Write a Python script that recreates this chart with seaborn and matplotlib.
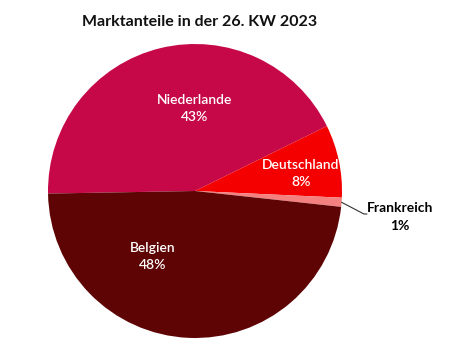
import numpy as np
import matplotlib
matplotlib.use("Agg")
import matplotlib.pyplot as plt
import seaborn as sns

# Market shares, calendar week 26 of 2023
countries = ["Niederlande", "Deutschland", "Frankreich", "Belgien"]
shares = [43, 8, 1, 48]
colors = ["#C60849", "#F40000", "#F48080", "#5E0404"]
title = "Marktanteile in der 26. KW 2023"

sns.set_theme(style="white")
plt.rcParams["font.family"] = ["Lato", "DejaVu Sans"]

W, H = 468, 345
fig = plt.figure(figsize=(W / 100, H / 100), dpi=100)
ax = fig.add_axes([0, 0, 1, 1])

# pie centre and radius in pixels
cx, cy, R = 195, 191, 147

wedges, _ = ax.pie(shares, colors=colors, startangle=181, counterclock=False,
                   radius=1.0, center=(0, 0), wedgeprops=dict(linewidth=0),
                   frame=False)
ax.set_xlim(-cx / R, (W - cx) / R)
ax.set_ylim(-(H - cy) / R, cy / R)
ax.set_aspect("equal")
ax.axis("off")

# inside label placement (radius, angle in degrees)
inside_pos = {"Niederlande": (0.56, 90), "Deutschland": (0.73, 9.5),
              "Belgien": (0.53, -123)}
for name, val in zip(countries, shares):
    if name in inside_pos:
        r, a = inside_pos[name]
        x, y = r * np.cos(np.radians(a)), r * np.sin(np.radians(a))
        ax.text(x, y, f"{name}\n{val}%", ha="center", va="center",
                color="white", fontsize=10, fontweight="semibold",
                linespacing=1.55)

# small slice labelled outside with a leader line
idx = countries.index("Frankreich")
w = wedges[idx]
mid = np.radians((w.theta1 + w.theta2) / 2)
p0 = (np.cos(mid), np.sin(mid))
p1 = ((364 - cx) / R, (cy - 214) / R)
ax.plot([p0[0], p1[0], p1[0] + 0.02], [p0[1], p1[1], p1[1]], color="#333333",
        lw=0.8)
ax.text((400 - cx) / R, (cy - 202) / R, f"{countries[idx]}\n{shares[idx]}%",
        ha="center", va="top", color="black", fontsize=10, fontweight="bold",
        linespacing=1.55, multialignment="center")

fig.text(200 / W, 1 - 22 / H, title, ha="center", va="center",
         fontsize=11.5, fontweight="bold", color="#111111")

fig.savefig("out.png", dpi=100, facecolor="white")
